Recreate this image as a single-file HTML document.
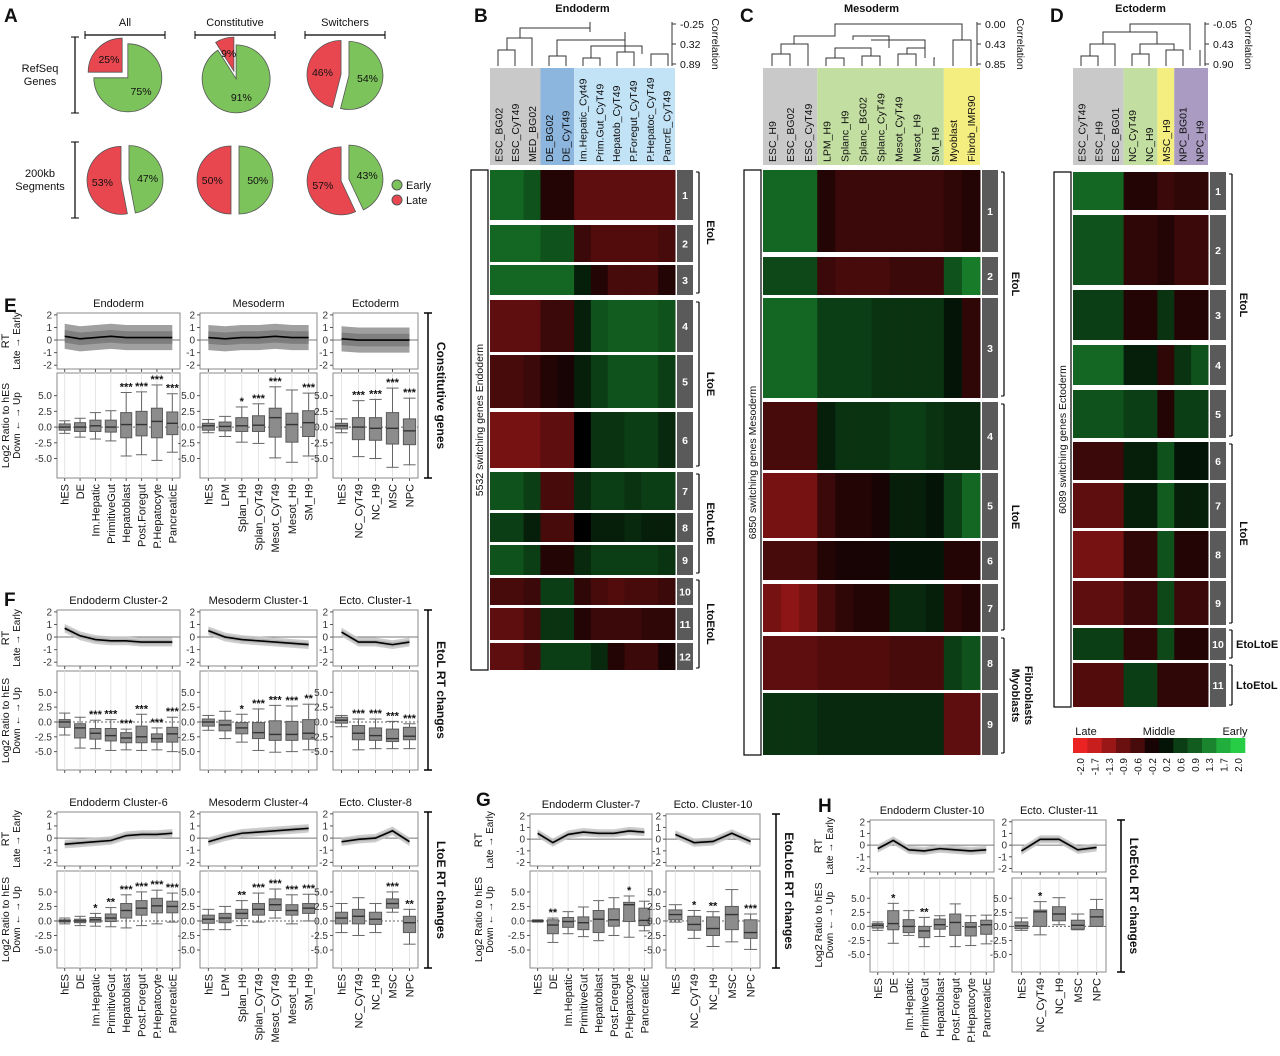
<!DOCTYPE html>
<html><head><meta charset="utf-8"><style>
html,body{margin:0;padding:0;background:#fff}
svg{display:block;font-family:"Liberation Sans",sans-serif}
</style></head><body>
<svg id="fig" width="1280" height="1056" viewBox="0 0 1280 1056" xmlns="http://www.w3.org/2000/svg"></svg>
<script>
// ---------- DATA ----------
const endoCats=["hES","DE","Im.Hepatic","PrimitiveGut","Hepatoblast","Post.Foregut","P.Hepatocyte","PancreaticE"];
const mesoCats=["hES","LPM","Splan_H9","Splan_CyT49","Mesot_CyT49","Mesot_H9","SM_H9"];
const ectoCats=["hES","NC_CyT49","NC_H9","MSC","NPC"];
const boxTicks=["5.0","2.5","0.0","-2.5","-5.0"];
const boxTickVals=[5,2.5,0,-2.5,-5];
const rtTicks=[2,1,0,-1,-2];
// Pie data (late fraction %)
const pieRows=["RefSeq Genes","200kb Segments"];
const pieCols=["All","Constitutive","Switchers"];
const pieLate=[[25,9,46],[53,50,57]];
// E
const eEndoMean=[0.3,0.1,0.2,0.3,0.2,0.2,0.2,0.2];
const eEndoMed=[0,0,0.2,0,0.4,0.4,0.9,0.6],eEndoQ1=[-0.5,-0.7,-0.7,-0.8,-1.7,-1.4,-1.7,-1.2],eEndoQ3=[0.5,0.7,1.1,1.1,2.3,2.5,3,2.4],eEndoLo=[-1,-1.6,-1.9,-2.2,-4.6,-4.4,-5.3,-4],eEndoHi=[1,1.4,2.3,2.6,5.5,5.6,6.7,5.3],eEndoStars=["","","","","***","***","***","***"];
const eMesoMean=[0.2,0.1,0.2,0.2,0.3,0.2,0.2];
const eMesoMed=[0.2,0.1,0.2,0.3,1.5,0.4,0.7],eMesoQ1=[-0.5,-0.6,-0.7,-0.7,-1.6,-2.4,-1.5],eMesoQ3=[0.6,0.8,1.5,1.8,3,2.2,2.6],eMesoLo=[-0.9,-1.5,-2.4,-2.6,-4.9,-5.6,-4.6],eMesoHi=[1.2,1.7,3.2,3.7,6.4,5.9,5.4],eMesoStars=["","","*","***","***","","***"];
const eEctoMean=[0.1,0,0,0,0];
const eEctoMed=[0.2,0,-0.2,-0.2,-0.6],eEctoQ1=[-0.3,-2,-2.1,-2.7,-2.8],eEctoQ3=[0.6,1.5,1.5,2.3,1.3],eEctoLo=[-0.9,-4.7,-5,-6.4,-6],eEctoHi=[1.3,4.2,4.4,6.2,4.6],eEctoStars=["","***","***","***","***"];
// F row1
const f1EndoMean=[0.7,0.1,-0.2,-0.3,-0.3,-0.4,-0.4,-0.4];
const f1EndoMed=[0,-1,-1.9,-2.3,-2.7,-2.5,-2.8,-2],f1EndoQ1=[-0.9,-2.7,-2.9,-3.2,-3.5,-3.5,-3.4,-3.4],f1EndoQ3=[0.4,-0.3,-1.1,-1.1,-1.8,-0.7,-2,-0.9],f1EndoLo=[-2.2,-4.4,-4.5,-4.8,-4.7,-4.8,-4.7,-5],f1EndoHi=[1.5,0.8,0.3,0.4,-1.2,1.3,-1,0.8],f1EndoStars=["","","***","***","***","***","***","***"];
const f1MesoMean=[0.5,0,-0.2,-0.3,-0.4,-0.5,-0.6];
const f1MesoMed=[0,-0.5,-1,-1.8,-2.1,-2.1,-1.9],f1MesoQ1=[-0.7,-1.5,-2,-2.8,-3.1,-3.1,-2.9],f1MesoQ3=[0.5,0.3,-0.1,-0.1,0.2,0.1,0.4],f1MesoLo=[-1.4,-2.8,-3.4,-4.8,-5.1,-5,-4.7],f1MesoHi=[1.1,1.8,1.3,2.2,2.8,2.7,3],f1MesoStars=["","","*","***","***","***","**"];
const f1EctoMean=[0.4,-0.4,-0.4,-0.6,-0.4];
const f1EctoMed=[0.3,-1.9,-2.3,-2.8,-2.4],f1EctoQ1=[-0.2,-3,-3.1,-3.3,-3],f1EctoQ3=[0.8,-0.6,-1,-1.2,-0.9],f1EctoLo=[-0.8,-4.7,-4.5,-4.5,-4.5],f1EctoHi=[1.1,0.5,0.5,0.1,-0.3],f1EctoStars=["","***","***","***","***"];
// F row2
const f2EndoMean=[-0.5,-0.4,-0.3,-0.2,0.2,0.3,0.3,0.4];
const f2EndoMed=[0,0,0.2,0.5,1.8,2.2,2.6,2.5],f2EndoQ1=[-0.2,-0.3,-0.2,-0.1,0.5,1,1.4,1.4],f2EndoQ3=[0.2,0.3,0.6,1.2,3,3.5,3.9,3.4],f2EndoLo=[-0.5,-0.8,-0.9,-1,-1.2,-0.8,-0.5,-0.2],f2EndoHi=[0.5,0.8,1.3,2.3,4.5,5,5.3,4.8],f2EndoStars=["","","*","**","***","***","***","***"];
const f2MesoMean=[-0.3,0.1,0.4,0.5,0.6,0.7,0.8];
const f2MesoMed=[0.3,0.5,1.3,2,2.8,1.8,2.2],f2MesoQ1=[-0.4,-0.3,0.4,1,1.8,1,1.3],f2MesoQ3=[1,1.3,2,3,3.8,2.8,3],f2MesoLo=[-1.5,-1.5,-0.8,-0.2,0.5,-0.5,0],f2MesoHi=[2,2.5,3.5,4.8,5.5,4.5,4.6],f2MesoStars=["","","**","***","***","***","***"];
const f2EctoMean=[-0.3,-0.1,0,0.6,-0.3];
const f2EctoMed=[0.5,0.8,0.3,3,-0.3],f2EctoQ1=[-0.5,-0.5,-0.6,2.2,-2],f2EctoQ3=[1.5,2,1.5,3.8,0.8],f2EctoLo=[-2,-2.5,-2,1.5,-4],f2EctoHi=[3,4,3,5,2],f2EctoStars=["","","","***","**"];
// G
const gEndoMean=[0.5,-0.3,0.4,0.6,0.5,0.5,0.7,0.6];
const gEndoMed=[0,-0.7,-0.1,-0.3,0.3,0.2,2.8,0.1],gEndoQ1=[-0.1,-2.2,-1.1,-1.5,-2,-0.9,-0.1,-0.8],gEndoQ3=[0.1,0.2,0.6,0.7,1.8,2.1,3.2,2.2],gEndoLo=[-0.2,-3.7,-2.2,-2.7,-3.4,-2.5,-2.8,-1.7],gEndoHi=[0.2,0.5,1.6,2.4,3.5,4,4.3,3.4],gEndoStars=["","**","","","","","*",""];
const gEctoMean=[0.4,-0.3,-0.2,0.5,-0.2];
const gEctoMed=[1.1,-0.6,-1.3,1.1,-2],gEctoQ1=[0.2,-1.6,-2.5,-1.5,-3],gEctoQ3=[1.9,0.8,0.7,2.5,0.2],gEctoLo=[-0.2,-3,-4.4,-3.6,-4.9],gEctoHi=[2.8,1.8,1.6,5.4,1.2],gEctoStars=["","*","**","","***"];
// H
const hEndoMean=[-0.3,0.4,-0.4,-0.5,-0.3,-0.4,-0.5,-0.4];
const hEndoMed=[0.2,0.5,0,-0.8,0.3,0.7,-0.1,0.3],hEndoQ1=[-0.3,-0.6,-1.1,-2,-0.5,-1.6,-1.7,-1.4],hEndoQ3=[0.5,2.8,1.2,0,1.3,2.2,0.7,1.1],hEndoLo=[-0.7,-3,-1.6,-3.6,-1.8,-3.6,-3.4,-3.1],hEndoHi=[0.8,4.1,2.8,1.6,1.9,4,1.9,2],hEndoStars=["","*","","**","","","",""];
const hEctoMean=[-0.5,0.5,0.5,-0.4,-0.2];
const hEctoMed=[0.1,2.6,2.2,0.2,1.7],hEctoQ1=[-0.4,0,1,-0.5,0],hEctoQ3=[0.8,2.9,3.5,1.1,3],hEctoLo=[-0.7,-1.5,0.3,-0.6,0],hEctoHi=[1.5,4.4,5.1,2.2,4.8],hEctoStars=["","*","","",""];
// Heatmaps
const bCols=["ESC_BG02","ESC_CyT49","MED_BG02","DE_BG02","DE_CyT49","Im.Hepatic_Cyt49","Prim.Gut_CyT49","Hepatob_CyT49","P.Foregut_CyT49","P.Hepatoc_CyT49","PancrE_CyT49"];
const bVals=[[1,1,0.8,-0.3,-0.3,-0.8,-0.8,-0.8,-0.8,-0.8,-0.8],[1,1,1,0.8,0.8,-0.5,-0.7,-0.7,-0.7,-0.7,-0.6],[1,1,1,1,1,0.3,-0.3,-0.6,-0.6,-0.6,-0.3],[-0.8,-0.8,-0.8,-0.5,-0.5,0.3,0.8,0.9,0.9,0.9,0.8],[-0.6,-0.6,-0.5,-0.3,-0.2,0.3,0.6,0.8,0.8,0.8,0.6],[-1,-1,-1,-0.8,-0.8,0,0.5,0.5,0.6,0.6,0.4],[0.8,0.8,0.6,-0.6,-0.6,0.4,0.6,0.6,0.5,0.6,0.6],[0.6,0.6,0.3,-0.6,-0.6,0,0.3,0.3,0.4,0.3,0.3],[0.8,0.8,0.6,-0.3,-0.3,0.4,0.6,0.6,0.6,0.6,0.5],[-0.6,-0.6,-0.5,0.6,0.6,-0.4,-0.6,-0.7,-0.6,-0.6,-0.5],[-0.8,-0.8,-0.6,0.5,0.5,-0.3,-0.5,-0.5,-0.5,-0.4,-0.4],[-0.8,-0.8,-0.6,0.6,0.6,0.6,0.4,-0.3,-0.5,-0.5,-0.2]];
const bClusterY=[[170,220],[225,262],[265,295],[300,352],[355,408],[412,468],[472,510],[513,542],[545,575],[578,605],[608,640],[643,670]];
const cCols=["ESC_H9","ESC_BG02","ESC_CyT49","LPM_H9","Splanc_H9","Splanc_BG02","Splanc_CyT49","Mesot_CyT49","Mesot_H9","SM_H9","Myoblast","Fibrob_IMR90"];
const cVals=[[1,1,1,-0.3,-0.5,-0.5,-0.5,-0.5,-0.5,-0.5,-0.4,-0.3],[0.7,0.7,0.7,-0.5,-0.6,-0.6,-0.6,-0.5,-0.5,-0.5,0.8,1.2],[1,1,1,0.6,0.6,0.6,0.5,0.5,0.5,0.5,0.2,-0.4],[-0.6,-0.6,-0.6,0.3,0.5,0.5,0.5,0.6,0.6,0.5,0.4,0.4],[-1,-1,-1,-0.5,-0.3,-0.3,-0.2,0.3,0.3,0.2,0.6,1],[-0.6,-0.6,-0.6,-0.3,-0.2,-0.2,-0.2,0.2,0.2,0.2,-0.3,-0.3],[-1,-1.2,-1,-0.6,-0.4,-0.3,-0.3,0.4,0.4,0.3,-0.4,-0.3],[-0.8,-0.8,-0.8,-0.7,-0.7,-0.7,-0.7,-0.6,-0.6,-0.6,0.6,0.8],[0.5,0.5,0.5,0.4,0.4,0.4,0.4,0.4,0.4,0.4,-0.8,-0.8]];
const cClusterY=[[170,252],[257,295],[298,398],[402,470],[473,538],[541,580],[584,632],[636,690],[693,755]];
const dCols=["ESC_CyT49","ESC_H9","ESC_BG01","NC_CyT49","NC_H9","MSC_H9","NPC_BG01","NPC_H9"];
const dVals=[[1,1,1,-0.3,-0.3,-0.5,-0.4,-0.4],[0.8,0.8,0.8,-0.4,-0.4,-0.3,-0.5,-0.5],[0.6,0.6,0.6,-0.3,-0.3,0.5,-0.3,-0.3],[1,1,1,0.3,0.3,-0.4,0.5,0.8],[0.8,0.8,0.8,0.6,0.6,-0.3,0.6,0.6],[-0.5,-0.5,-0.5,0.3,0.3,0.8,0.2,0.2],[-0.8,-0.8,-0.8,0.3,0.3,0.9,0.3,0.3],[-1,-1,-1,-0.4,-0.4,0.8,-0.3,-0.3],[-0.8,-0.8,-0.8,-0.5,-0.5,0.7,-0.5,-0.5],[0.6,0.6,0.6,-0.4,-0.4,0.7,-0.3,-0.3],[-0.7,-0.7,-0.7,0.6,0.6,-0.4,-0.4,-0.4]];
const dClusterY=[[172,210],[215,285],[290,340],[345,385],[390,438],[442,480],[483,528],[531,578],[581,625],[628,660],[663,707]];
const cbarLabels=["-2.0","-1.7","-1.3","-0.9","-0.6","-0.2","0.2","0.6","0.9","1.3","1.7","2.0"];
const cbarVals=[-2,-1.7,-1.3,-0.9,-0.6,-0.2,0.2,0.6,0.9,1.3,1.7,2.0];

// ---------- HELPERS ----------
const svg=document.getElementById('fig');
const NS="http://www.w3.org/2000/svg";
function el(tag,attrs,parent,txt){const e=document.createElementNS(NS,tag);for(const k in attrs)e.setAttribute(k,attrs[k]);if(txt!==undefined)e.textContent=txt;(parent||svg).appendChild(e);return e;}
function grp(name,parent){const g=el('g',{},parent);return g;}
function txt(p,x,y,s,size,opts){opts=opts||{};const a={x:x,y:y,'font-size':size,fill:opts.fill||'#111','text-anchor':opts.anchor||'start'};if(opts.bold)a['font-weight']='bold';if(opts.rot!==undefined)a.transform='rotate('+opts.rot+' '+x+' '+y+')';const t=el('text',a,p,s);return t;}
function heatColor(v){const t=Math.min(1,Math.abs(v)/2.0);if(v<0)return 'rgb('+Math.round(235*t)+','+Math.round(35*t)+','+Math.round(35*t)+')';return 'rgb('+Math.round(40*t)+','+Math.round(205*t)+','+Math.round(70*t)+')';}

// ---------- PANEL LETTERS ----------
[["A",4,22],["B",474,22],["C",740,22],["D",1050,22],["E",4,312],["F",4,606],["G",476,806],["H",818,812]].forEach(l=>txt(svg,l[1],l[2],l[0],19,{bold:true,name:'panel-letter-'+l[0].toLowerCase()}));

// ---------- PANEL A: PIES ----------
(function(){
const g=grp('pie-panel');
const cx=[125,235,345],cy=[75,180],r=34;
pieCols.forEach((c,i)=>{txt(g,cx[i],26,c,11,{anchor:'middle',name:'pie-column-title'});el('line',{x1:cx[i]-40,x2:cx[i]+40,y1:35,y2:35,stroke:'#000','stroke-width':1.2},g);el('line',{x1:cx[i]-40,x2:cx[i]-40,y1:31,y2:39,stroke:'#000'},g);el('line',{x1:cx[i]+40,x2:cx[i]+40,y1:31,y2:39,stroke:'#000'},g);});
pieRows.forEach((rname,j)=>{const parts=rname.split(' ');txt(g,40,cy[j]-3,parts[0],11,{anchor:'middle',name:'pie-row-title'});txt(g,40,cy[j]+10,parts[1],11,{anchor:'middle',name:'pie-row-title'});
 el('line',{x1:75,x2:75,y1:cy[j]-38,y2:cy[j]+38,stroke:'#000','stroke-width':1.2},g);el('line',{x1:71,x2:79,y1:cy[j]-38,y2:cy[j]-38,stroke:'#000'},g);el('line',{x1:71,x2:79,y1:cy[j]+38,y2:cy[j]+38,stroke:'#000'},g);});
function arc(x,y,a0,a1){const p0=[x+r*Math.cos(a0),y-r*Math.sin(a0)],p1=[x+r*Math.cos(a1),y-r*Math.sin(a1)];const large=(a1-a0)>Math.PI?1:0;return 'M'+x+','+y+'L'+p0[0]+','+p0[1]+'A'+r+','+r+' 0 '+large+' 0 '+p1[0]+','+p1[1]+'Z';}
pieLate.forEach((row,j)=>row.forEach((late,i)=>{
 const x=cx[i],y=cy[j];const a0=Math.PI/2,a1=Math.PI/2+late/100*2*Math.PI;
 const mid=(a0+a1)/2,off=4;const rx=x+off*Math.cos(mid),ry=y-off*Math.sin(mid);const gx=x-off*Math.cos(mid),gy=y+off*Math.sin(mid);
 const red=el('path',{d:arc(rx,ry,a0,a1),fill:'#e8474f',stroke:'#555','stroke-width':0.8},g);
 const grn=el('path',{d:arc(gx,gy,a1,a0+2*Math.PI),fill:'#7cc35c',stroke:'#555','stroke-width':0.8},g);
 const lr=r*0.55;txt(g,rx+lr*Math.cos(mid),ry-lr*Math.sin(mid)+4,late+'%',10.5,{anchor:'middle',name:'pie-pct-late'});
 const gm=mid+Math.PI;txt(g,gx+lr*Math.cos(gm),gy-lr*Math.sin(gm)+4,(100-late)+'%',10.5,{anchor:'middle',name:'pie-pct-early'});
}));
el('circle',{cx:397,cy:185,r:5,fill:'#7cc35c',stroke:'#555'},g);txt(g,406,189,'Early',11,{name:'legend-early'});
el('circle',{cx:397,cy:200,r:5,fill:'#e8474f',stroke:'#555'},g);txt(g,406,204,'Late',11,{name:'legend-late'});
})();

// ---------- HEATMAPS ----------
function heatmap(o){
 const g=grp(o.name);
 const n=o.cols.length,cw=(o.x1-o.x0)/n;
 const xs=i=>o.x0+i*cw;
 txt(g,(o.x0+o.x1)/2,12,o.title,11,{anchor:'middle',bold:true,name:'heatmap-title'});
 const dg=grp('dendrogram',g);
 o.dendro.forEach(s=>{el('path',{d:s,fill:'none',stroke:'#333','stroke-width':1},dg);});
 el('line',{x1:o.axX,x2:o.axX,y1:22,y2:66,stroke:'#333'},g);
 o.corr.forEach((c,k)=>{const yy=24+k*20;el('line',{x1:o.axX,x2:o.axX+4,y1:yy,y2:yy,stroke:'#333'},g);txt(g,o.axX+8,yy+4,c,10.5,{name:'correlation-tick'});});
 txt(g,o.axX+40,44,'Correlation',10.5,{anchor:'middle',rot:90,name:'correlation-axis-title'});
 o.hdr.forEach(h=>{const r=el('rect',{x:xs(h[0]),y:68,width:cw*(h[1]-h[0]+1),height:97,fill:h[2]},g);});
 o.cols.forEach((c,i)=>txt(g,xs(i)+cw/2+4,162,c,10.5,{anchor:'start',rot:-90,name:'column-label'}));
 o.vals.forEach((row,k)=>{const y0=o.cy[k][0],y1=o.cy[k][1];
  row.forEach((v,i)=>{const r=el('rect',{x:xs(i),y:y0,width:cw+0.5,height:y1-y0,fill:heatColor(v)},g);});
  const b=el('rect',{x:o.x1+2,y:y0,width:16,height:y1-y0,fill:'#5a5a5a'},g);
  txt(g,o.x1+10,(y0+y1)/2+4,String(k+1),10.5,{anchor:'middle',bold:true,fill:'#fff',name:'cluster-number'});
 });
 const yt=o.cy[0][0],yb=o.cy[o.cy.length-1][1];
 el('rect',{x:o.x0-19,y:yt,width:17,height:yb-yt,fill:'none',stroke:'#000','stroke-width':1.2},g);
 txt(g,o.x0-7,(yt+yb)/2,o.leftLabel,10.5,{anchor:'middle',rot:-90,name:'gene-count-label'});
 o.groups.forEach(gr=>{const a=o.cy[gr[0]][0],b=o.cy[gr[1]][1];const bx=o.x1+24;
  el('line',{x1:bx,x2:bx,y1:a+2,y2:b-2,stroke:'#000','stroke-width':1.2},g);
  el('line',{x1:bx-3,x2:bx,y1:a+2,y2:a+2,stroke:'#000'},g);el('line',{x1:bx-3,x2:bx,y1:b-2,y2:b-2,stroke:'#000'},g);
  if(gr[3]){txt(g,bx+4,(a+b)/2+4,gr[2],11,{bold:true,name:'cluster-group-label'});}
  else{const lines=gr[2].split('\n');lines.forEach((ln,li)=>txt(g,bx+8+li*13,(a+b)/2,ln,11,{anchor:'middle',bold:true,rot:90,name:'cluster-group-label'}));}
 });
}
heatmap({name:'heatmap-endoderm',title:'Endoderm',x0:490,x1:675,cols:bCols,vals:bVals,cy:bClusterY,axX:672,corr:['-0.25','0.32','0.89'],
 hdr:[[0,2,'#c9c9c9'],[3,4,'#8db6df'],[5,10,'#c2e2f5']],leftLabel:'5532 switching genes Endoderm',
 groups:[[0,2,'EtoL'],[3,5,'LtoE'],[6,8,'EtoLtoE'],[9,11,'LtoEtoL']],
 dendro:['M498,66V50H515V66M507,50V38H532V66M520,38V28H590V22','M549,66V56H566V66M557,56V40H625V32','M583,66V58H600V66M617,66V52H634V66M651,66V54H668V66M591,58V46H625V52M642,54V46H625M625,46V40M590,32V28']});
heatmap({name:'heatmap-mesoderm',title:'Mesoderm',x0:763,x1:980,cols:cCols,vals:cVals,cy:cClusterY,axX:977,corr:['0.00','0.43','0.85'],
 hdr:[[0,2,'#c9c9c9'],[3,9,'#c3dea1'],[10,11,'#f4ee80']],leftLabel:'6850 switching genes Mesoderm',
 groups:[[0,2,'EtoL'],[3,6,'LtoE'],[7,8,'Myoblasts\nFibroblasts']],
 dendro:['M772,66V54H790V66M781,54V44H808V66M794,44V36H835V30','M826,66V58H844V66M862,66V56H880V66M898,66V54H916V66M934,66V58H935M835,58V48H871V56M907,54V48H925V58M889,48V40H871M889,40H925V48M853,40V36H889V40','M835,30V24H962V40M953,66V40H971V66']});
heatmap({name:'heatmap-ectoderm',title:'Ectoderm',x0:1073,x1:1208,cols:dCols,vals:dVals,cy:dClusterY,axX:1205,corr:['-0.05','0.43','0.90'],
 hdr:[[0,2,'#c9c9c9'],[3,4,'#c3dea1'],[5,5,'#f4ee80'],[6,7,'#a99bc1']],leftLabel:'6089 switching genes Ectoderm',
 groups:[[0,4,'EtoL'],[5,8,'LtoE'],[9,9,'EtoLtoE',1],[10,10,'LtoEtoL',1]],
 dendro:['M1081,66V56H1098V66M1090,56V44H1115V66M1132,66V54H1149V66M1166,66V50H1183V66M1200,66V50H1200M1140,54V44H1174V50M1103,44V32H1157V44M1130,32V24H1190V50']});

// colorbar
(function(){const g=grp('colorbar');const x0=1073,w=(1245-1073)/cbarVals.length;
 cbarVals.forEach((v,i)=>{const r=el('rect',{x:x0+i*w,y:738,width:w+0.3,height:15,fill:heatColor(v)},g);
  txt(g,x0+i*w+w/2+4,758,cbarLabels[i],10,{anchor:'end',rot:-90,name:'colorbar-tick'});});
 txt(g,1086,735,'Late',11,{anchor:'middle',name:'colorbar-late'});txt(g,1159,735,'Middle',11,{anchor:'middle',name:'colorbar-middle'});txt(g,1235,735,'Early',11,{anchor:'middle',name:'colorbar-early'});
})();

// ---------- PROFILE + BOX PANELS ----------
function panel(o){
 const g=grp(o.name);
 const n=o.cats.length,cw=(o.x1-o.x0)/n;
 const cx=i=>o.x0+cw*(i+0.5);
 const ly=v=>o.lt+(2.15-v)/4.45*(o.lb-o.lt);
 const by=v=>o.bt+(8.6-v)/16.7*(o.bb-o.bt);
 txt(g,(o.x0+o.x1)/2,o.lt-6,o.title,11,{anchor:'middle',name:'panel-title'});
 el('rect',{x:o.x0,y:o.lt,width:o.x1-o.x0,height:o.lb-o.lt,fill:'#fff',stroke:'#8a8a8a'},g);
 el('line',{x1:o.x0,x2:o.x1,y1:ly(0),y2:ly(0),stroke:'#777'},g);
 rtTicks.forEach(t=>{el('line',{x1:o.x0-3,x2:o.x0,y1:ly(t),y2:ly(t),stroke:'#555'},g);txt(g,o.x0-5,ly(t)+3.5,String(t),10,{anchor:'end',fill:'#333',name:'rt-tick'});});
 const up=o.mean.map((m,i)=>cx(i)+','+ly(m+o.band)).join(' ');
 const dn=o.mean.map((m,i)=>cx(i)+','+ly(m-o.band)).reverse().join(' ');
 el('polygon',{points:up+' '+dn,fill:o.band>0.6?'#8f8f8f':'#c4c4c4',opacity:0.85},g);
 el('polygon',{points:o.mean.map((m,i)=>cx(i)+','+ly(m+o.band*0.5)).join(' ')+' '+o.mean.map((m,i)=>cx(i)+','+ly(m-o.band*0.5)).reverse().join(' '),fill:o.band>0.6?'#707070':'#a8a8a8',opacity:0.7},g);
 const ml=el('polyline',{points:o.mean.map((m,i)=>cx(i)+','+ly(m)).join(' '),fill:'none',stroke:'#000','stroke-width':1.6},g);
 o.cats.forEach((c,i)=>el('line',{x1:cx(i),x2:cx(i),y1:o.lb,y2:o.lb+3,stroke:'#555'},g));
 el('rect',{x:o.x0,y:o.bt,width:o.x1-o.x0,height:o.bb-o.bt,fill:'#fff',stroke:'#8a8a8a'},g);
 o.cats.forEach((c,i)=>el('line',{x1:cx(i),x2:cx(i),y1:o.bt,y2:o.bb,stroke:'#e4e4e4'},g));
 el('line',{x1:o.x0,x2:o.x1,y1:by(0),y2:by(0),stroke:'#666','stroke-dasharray':'2,2'},g);
 boxTickVals.forEach((t,k)=>{el('line',{x1:o.x0-3,x2:o.x0,y1:by(t),y2:by(t),stroke:'#555'},g);txt(g,o.x0-5,by(t)+3.5,boxTicks[k],10,{anchor:'end',fill:'#333',name:'ratio-tick'});});
 const bw=Math.min(cw*0.72,13);
 o.cats.forEach((c,i)=>{const x=cx(i);
  el('line',{x1:x,x2:x,y1:by(o.hi[i]),y2:by(o.lo[i]),stroke:'#666'},g);
  el('line',{x1:x-bw/2,x2:x+bw/2,y1:by(o.hi[i]),y2:by(o.hi[i]),stroke:'#666'},g);
  el('line',{x1:x-bw/2,x2:x+bw/2,y1:by(o.lo[i]),y2:by(o.lo[i]),stroke:'#666'},g);
  const b=el('rect',{x:x-bw/2,y:by(o.q3[i]),width:bw,height:Math.max(1,by(o.q1[i])-by(o.q3[i])),fill:'#8c8c8c',stroke:'#5a5a5a'},g);
  el('line',{x1:x-bw/2,x2:x+bw/2,y1:by(o.med[i]),y2:by(o.med[i]),stroke:'#333','stroke-width':1.4},g);
  if(o.stars[i])txt(g,x,by(o.hi[i])-2,o.stars[i],11,{anchor:'middle',bold:true,name:'significance-stars'});
  el('line',{x1:x,x2:x,y1:o.bb,y2:o.bb+3,stroke:'#555'},g);
  if(o.labels)txt(g,x+4,o.bb+6,c,11,{anchor:'end',rot:-90,name:'category-label'});
 });
 if(o.ytitle){const yx=o.x0-38;
  txt(g,yx-10,(o.lt+o.lb)/2,'RT',11,{anchor:'middle',rot:-90,name:'rt-axis-title'});
  txt(g,yx+1,(o.lt+o.lb)/2,'Late \u2192 Early',10,{anchor:'middle',rot:-90,name:'rt-axis-subtitle'});
  txt(g,yx-10,(o.bt+o.bb)/2,'Log2 Ratio to hES',10.5,{anchor:'middle',rot:-90,name:'ratio-axis-title'});
  txt(g,yx+1,(o.bt+o.bb)/2,'Down \u2190 \u2192 Up',10,{anchor:'middle',rot:-90,name:'ratio-axis-subtitle'});}
}
function mk(name,title,x0,x1,lt,lb,bt,bb,cats,mean,band,med,q1,q3,lo,hi,stars,labels,ytitle){panel({name,title,x0,x1,lt,lb,bt,bb,cats,mean,band,med,q1,q3,lo,hi,stars,labels,ytitle});}
mk('e-endoderm','Endoderm',57,180,313,369,373,478,endoCats,eEndoMean,1.0,eEndoMed,eEndoQ1,eEndoQ3,eEndoLo,eEndoHi,eEndoStars,true,true);
mk('e-mesoderm','Mesoderm',200,317,313,369,373,478,mesoCats,eMesoMean,1.0,eMesoMed,eMesoQ1,eMesoQ3,eMesoLo,eMesoHi,eMesoStars,true,false);
mk('e-ectoderm','Ectoderm',333,418,313,369,373,478,ectoCats,eEctoMean,1.0,eEctoMed,eEctoQ1,eEctoQ3,eEctoLo,eEctoHi,eEctoStars,true,false);
mk('f-endoderm-c2','Endoderm Cluster-2',57,180,610,666,671,770,endoCats,f1EndoMean,0.35,f1EndoMed,f1EndoQ1,f1EndoQ3,f1EndoLo,f1EndoHi,f1EndoStars,false,true);
mk('f-mesoderm-c1','Mesoderm Cluster-1',200,317,610,666,671,770,mesoCats,f1MesoMean,0.35,f1MesoMed,f1MesoQ1,f1MesoQ3,f1MesoLo,f1MesoHi,f1MesoStars,false,false);
mk('f-ecto-c1','Ecto. Cluster-1',333,418,610,666,671,770,ectoCats,f1EctoMean,0.35,f1EctoMed,f1EctoQ1,f1EctoQ3,f1EctoLo,f1EctoHi,f1EctoStars,false,false);
mk('f-endoderm-c6','Endoderm Cluster-6',57,180,812,866,871,968,endoCats,f2EndoMean,0.35,f2EndoMed,f2EndoQ1,f2EndoQ3,f2EndoLo,f2EndoHi,f2EndoStars,true,true);
mk('f-mesoderm-c4','Mesoderm Cluster-4',200,317,812,866,871,968,mesoCats,f2MesoMean,0.35,f2MesoMed,f2MesoQ1,f2MesoQ3,f2MesoLo,f2MesoHi,f2MesoStars,true,false);
mk('f-ecto-c8','Ecto. Cluster-8',333,418,812,866,871,968,ectoCats,f2EctoMean,0.35,f2EctoMed,f2EctoQ1,f2EctoQ3,f2EctoLo,f2EctoHi,f2EctoStars,true,false);
mk('g-endoderm-c7','Endoderm Cluster-7',530,652,814,866,871,968,endoCats,gEndoMean,0.35,gEndoMed,gEndoQ1,gEndoQ3,gEndoLo,gEndoHi,gEndoStars,true,true);
mk('g-ecto-c10','Ecto. Cluster-10',666,760,814,866,871,968,ectoCats,gEctoMean,0.35,gEctoMed,gEctoQ1,gEctoQ3,gEctoLo,gEctoHi,gEctoStars,true,false);
mk('h-endoderm-c10','Endoderm Cluster-10',870,994,820,872,878,972,endoCats,hEndoMean,0.35,hEndoMed,hEndoQ1,hEndoQ3,hEndoLo,hEndoHi,hEndoStars,true,true);
mk('h-ecto-c11','Ecto. Cluster-11',1012,1106,820,872,878,972,ectoCats,hEctoMean,0.35,hEctoMed,hEctoQ1,hEctoQ3,hEctoLo,hEctoHi,hEctoStars,true,false);

[[428,313,478,'Constitutive genes'],[428,610,770,'EtoL RT changes'],[428,812,968,'LtoE RT changes'],[776,814,968,'EtoLtoE RT changes'],[1121,820,972,'LtoEtoL RT changes']].forEach(b=>{
 const g=grp('side-bracket');
 el('line',{x1:b[0],x2:b[0],y1:b[1],y2:b[2],stroke:'#000','stroke-width':1.5},g);
 el('line',{x1:b[0]-4,x2:b[0]+4,y1:b[1],y2:b[1],stroke:'#000','stroke-width':1.5},g);
 el('line',{x1:b[0]-4,x2:b[0]+4,y1:b[2],y2:b[2],stroke:'#000','stroke-width':1.5},g);
 txt(g,b[0]+9,(b[1]+b[2])/2,b[3],12,{anchor:'middle',bold:true,rot:90,name:'side-bracket-label'});
});
</script>
</body></html>
